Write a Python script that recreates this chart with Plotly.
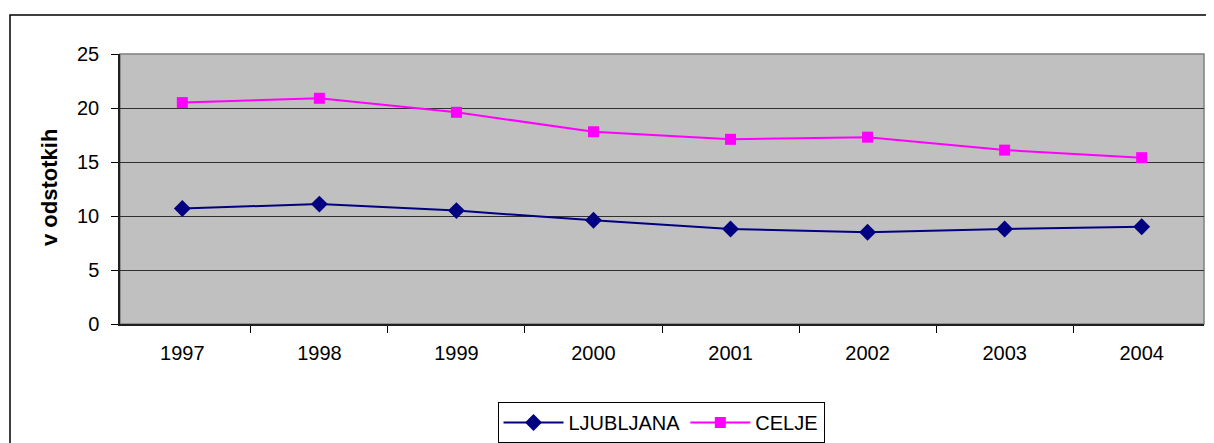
import plotly.graph_objects as go

# data
years = ["1997", "1998", "1999", "2000", "2001", "2002", "2003", "2004"]
ljubljana = [10.7, 11.1, 10.5, 9.6, 8.8, 8.5, 8.8, 9.0]
celje = [20.5, 20.9, 19.6, 17.8, 17.1, 17.3, 16.1, 15.4]

NAVY = "#000080"
MAGENTA = "#FF00FF"
FONT = "Liberation Sans, Arial, sans-serif"

# the page body has an 8px margin, so the figure is shifted by that
OFF = 8
W, H = 1206, 435
L, R, T, B = 112, 10, 46, 119
PW, PH = W - L - R, H - T - B


def px_x(sx):
    """screen x pixel -> paper coordinate"""
    return (sx - OFF - L) / PW


def px_y(sy):
    """screen y pixel -> paper coordinate"""
    return (H - B - (sy - OFF)) / PH


fig = go.Figure()
fig.add_trace(go.Scatter(
    x=years, y=ljubljana, name="LJUBLJANA", mode="lines+markers",
    line=dict(color=NAVY, width=2),
    marker=dict(symbol="diamond", size=13, color=NAVY),
))
fig.add_trace(go.Scatter(
    x=years, y=celje, name="CELJE", mode="lines+markers",
    line=dict(color=MAGENTA, width=2),
    marker=dict(symbol="square", size=11, color=MAGENTA),
))

fig.update_layout(
    width=W, height=H,
    margin=dict(l=L, r=R, t=T, b=B, pad=0),
    paper_bgcolor="white",
    plot_bgcolor="#C0C0C0",
    font=dict(family=FONT, size=20, color="black"),
    legend=dict(
        orientation="h",
        xref="container", x=(661 - OFF) / W, xanchor="center",
        yref="container", y=1 - (402 - OFF) / H, yanchor="top",
        bordercolor="black", borderwidth=1,
        font=dict(size=20), itemwidth=60, tracegroupgap=0,
    ),
    shapes=[
        # plot area border (gray)
        dict(type="rect", xref="paper", yref="paper", x0=0, x1=1, y0=0, y1=1,
             line=dict(color="#808080", width=1.5), layer="below"),
        # outer chart frame
        dict(type="rect", xref="paper", yref="paper",
             x0=px_x(10), x1=px_x(1225), y0=px_y(460), y1=px_y(15),
             line=dict(color="black", width=1.5)),
    ],
    annotations=[dict(
        text="<b>v odstotkih</b>", textangle=-90, showarrow=False,
        xref="paper", yref="paper", x=px_x(49), y=px_y(188),
        xanchor="center", yanchor="middle", font=dict(size=22),
    )],
)

fig.update_xaxes(
    type="category", tickson="boundaries", ticks="outside", ticklen=7,
    tickcolor="black", showline=True, linecolor="#202020", linewidth=2,
    showgrid=False, zeroline=False, tickfont=dict(size=20),
    ticklabelstandoff=10,
)
fig.update_yaxes(
    range=[0, 25], dtick=5, ticks="outside", ticklen=7, tickcolor="black",
    showline=True, linecolor="#202020", linewidth=1.5,
    showgrid=True, gridcolor="#303030", gridwidth=1, zeroline=False,
    tickfont=dict(size=20), ticklabelstandoff=8,
)

fig.write_html("out.html")
